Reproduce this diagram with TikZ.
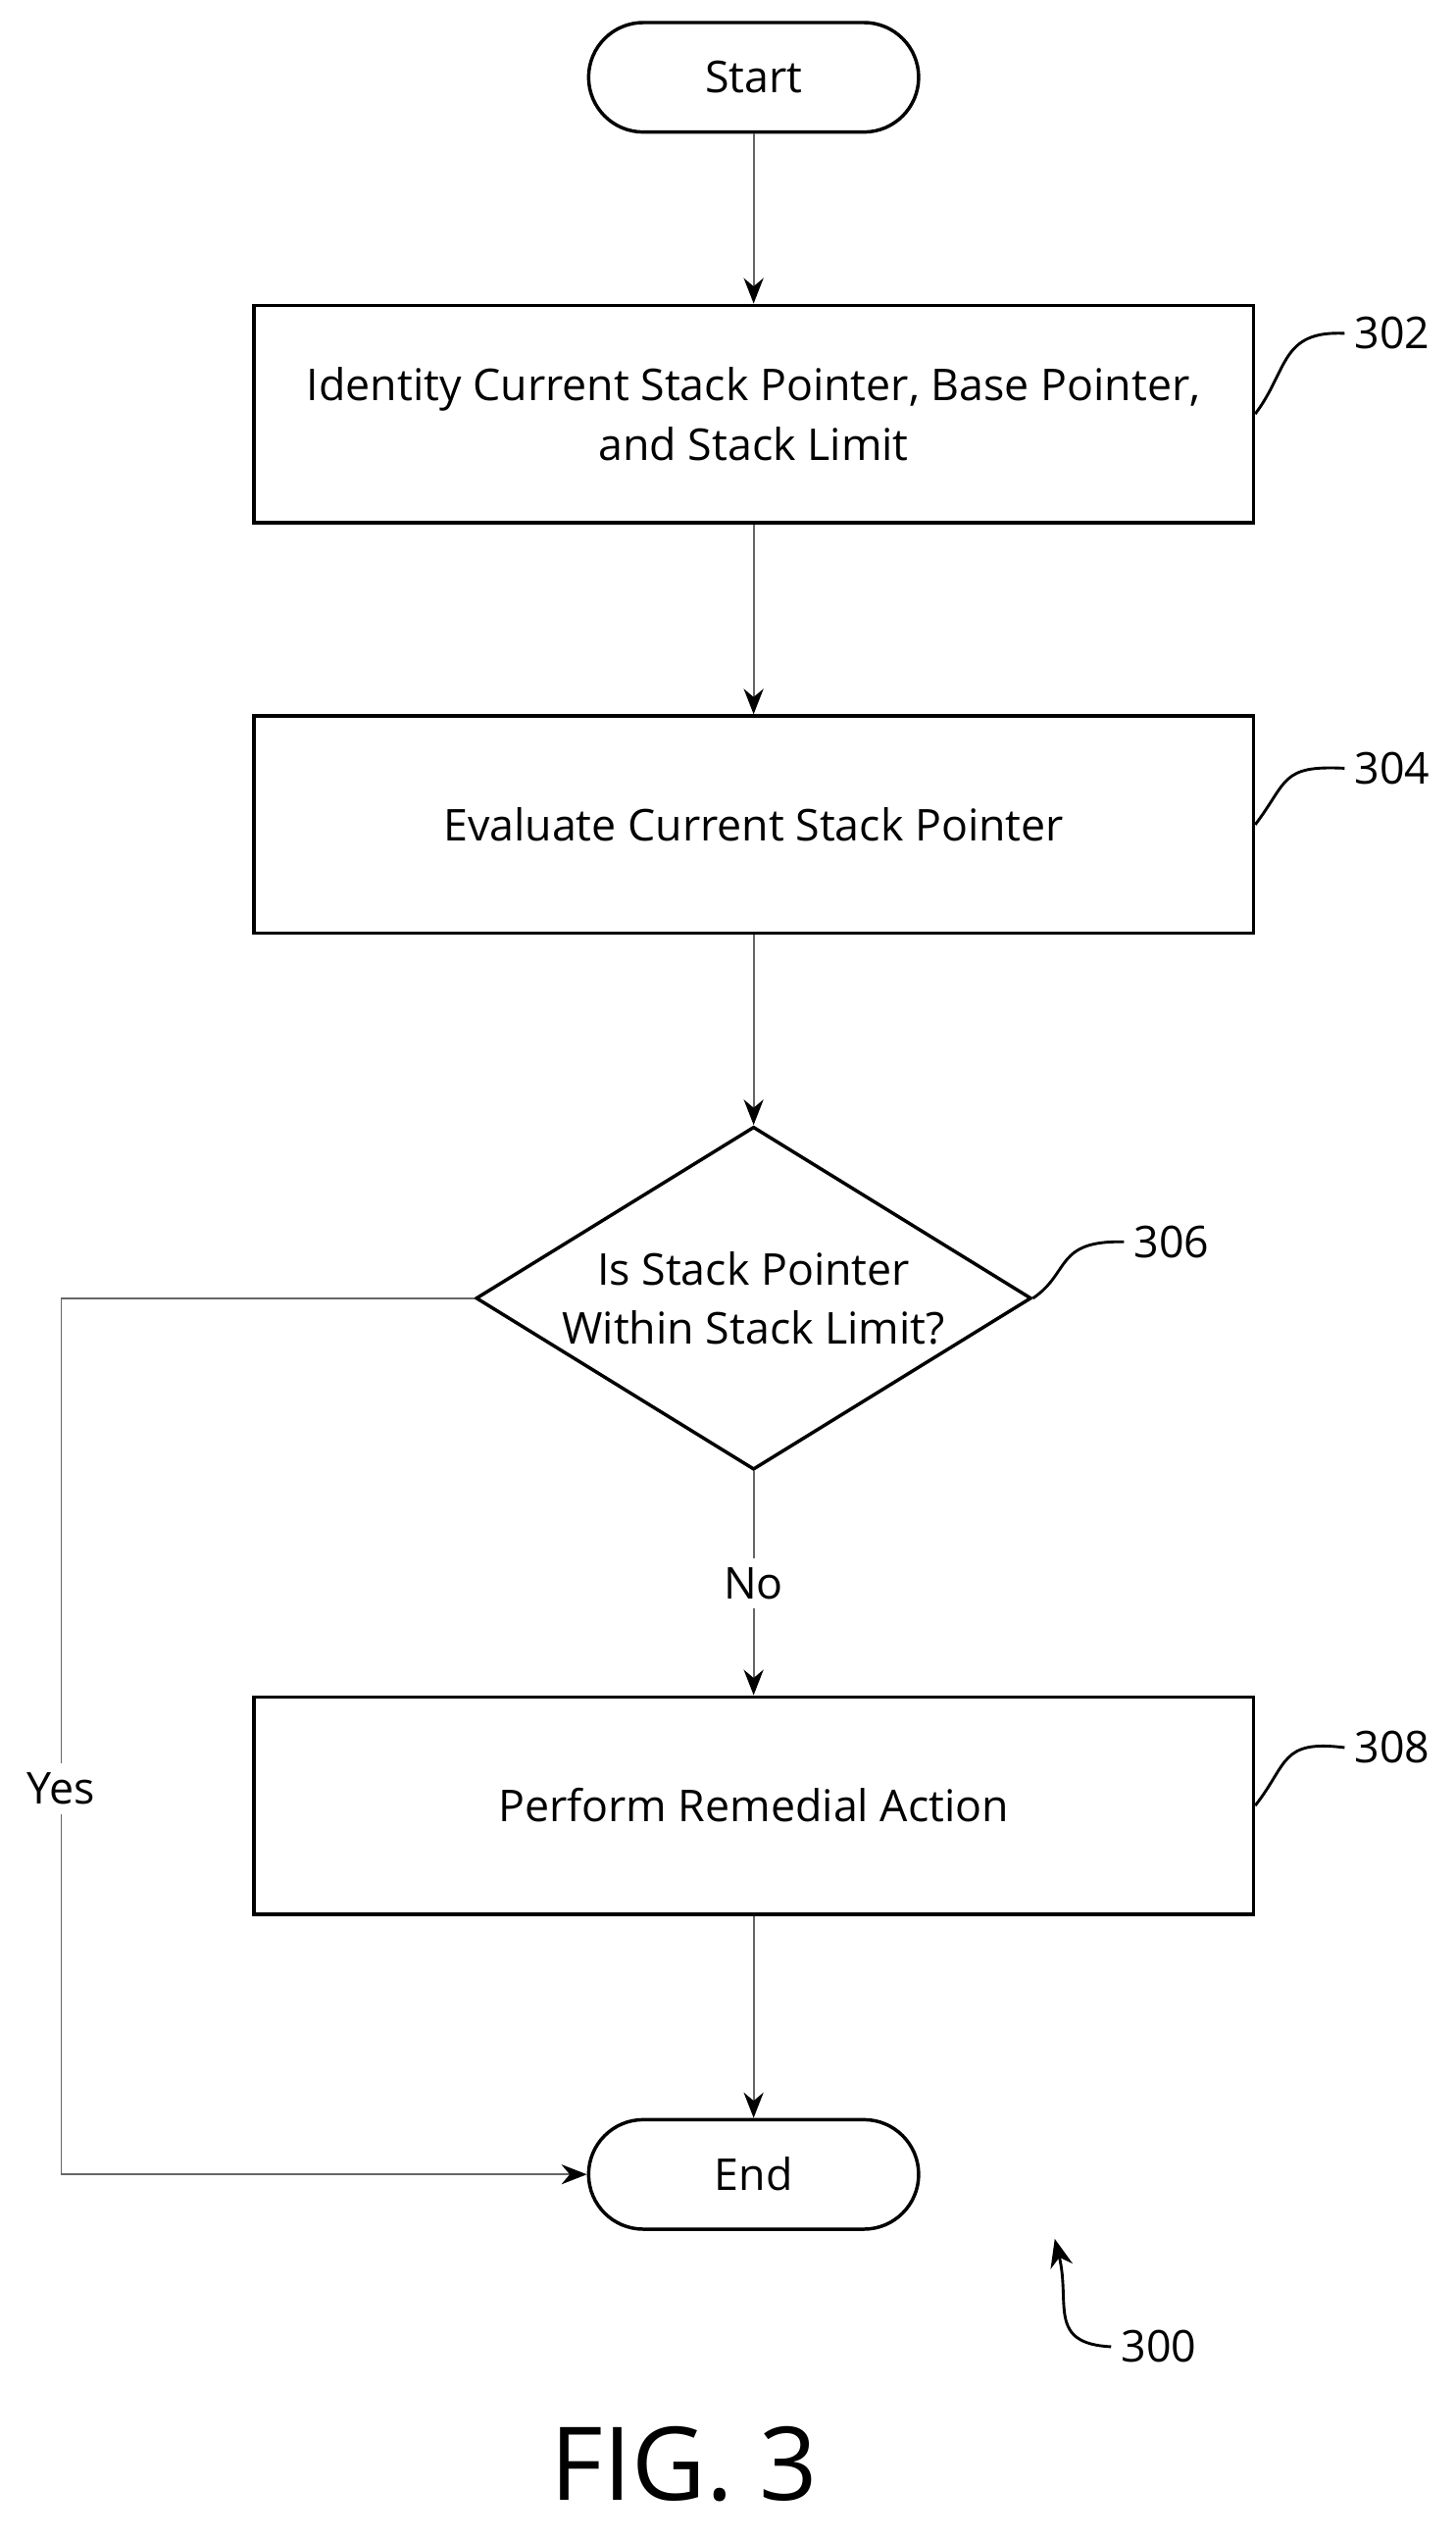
\documentclass[tikz,border=0pt]{standalone}
\usepackage{fontspec}
\setmainfont{Open Sans}
\usetikzlibrary{shapes.geometric,arrows.meta}
\begin{document}
\begin{tikzpicture}[x=0.02cm,y=-0.02cm,
    font=\fontsize{15.5pt}{21pt}\selectfont,
    process/.style={draw, line width=1.2pt, minimum width=12.42cm, minimum height=2.7cm, align=center},
    term/.style={draw, line width=1.2pt, rounded corners=0.68cm, minimum width=4.1cm, minimum height=1.36cm},
    flow/.style={draw=gray!80!black, line width=0.6pt, -{Stealth[length=9pt,width=7pt,black]}},
    squig/.style={line width=1pt}]

    \useasboundingbox (0,0) rectangle (904,1577);

    % Start and end
    \node[term] (start) at (468,48) {Start};
    \node[term] (finish) at (468,1350) {End};

    % Steps
    \node[process] (ident) at (468,257) {Identity Current Stack Pointer, Base Pointer,\\and Stack Limit};
    \node[process] (eval) at (468,512) {Evaluate Current Stack Pointer};
    \node[process] (remedy) at (468,1121) {Perform Remedial Action};

    % Decision
    \node[draw, line width=1.2pt, diamond, inner sep=0pt,
        minimum width=6.9cm, minimum height=4.26cm] (check) at (468,806) {};
    \node[align=center] (checktext) at (check.center) {Is Stack Pointer\\Within Stack Limit?};

    % Connectors
    \draw[flow] (start) -- (ident);
    \draw[flow] (ident) -- (eval);
    \draw[flow] (eval) -- (check);
    \draw[flow] (check) -- node[fill=white, pos=0.5] {No} (remedy);
    \draw[flow] (remedy) -- (finish);
    \coordinate (yestop) at (38,806);
    \coordinate (yesbot) at (38,1350);
    \draw[flow] (check.west) -- (yestop) -- node[fill=white, pos=0.56] {Yes} (yesbot) -- (finish.west);

    % Reference numerals
    \node[anchor=west] (n302) at (835,207) {302};
    \node[anchor=west] (n304) at (835,477) {304};
    \node[anchor=west] (n306) at (698,771) {306};
    \node[anchor=west] (n308) at (835,1085) {308};
    \node[anchor=west] (n300) at (690,1457) {300};
    \draw[squig] (ident.east) .. controls (800,230) and (795,205) .. (n302.west);
    \draw[squig] (eval.east) .. controls (800,485) and (795,475) .. (n304.west);
    \draw[squig] (check.east) .. controls (665,790) and (655,770) .. (n306.west);
    \draw[squig] (remedy.east) .. controls (800,1095) and (795,1080) .. (n308.west);
    \draw[squig, -{Stealth[length=10pt,width=8pt]}] (n300.west) .. controls (650,1455) and (665,1430) .. (655,1390);

    % Figure label
    \node[font=\fontsize{36pt}{40pt}\selectfont] (fig) at (425,1530) {FIG. 3};

\end{tikzpicture}
\end{document}
